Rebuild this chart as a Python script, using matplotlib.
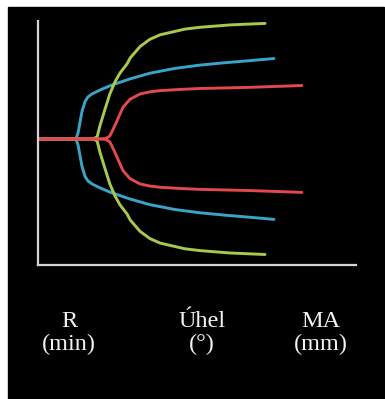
import matplotlib.pyplot as plt
from matplotlib.patches import Rectangle

# TEG trace half-widths (amplitude, mm) against time
blue_x = [0, 11.9, 12.6, 13.8, 14.8, 15.7, 17, 19.5, 22.6, 24.2, 28.9, 35.2,
          43, 50.9, 58.8, 66.7, 74.2]
blue_amp = [0, 0, 2, 9, 12.5, 14, 15, 16.3, 17.7, 18.3, 20, 21.9,
            23.5, 24.6, 25.4, 26.1, 26.8]

green_x = [0, 17.3, 18.6, 19.5, 21.1, 22.6, 24.2, 25.8, 28, 29, 32.1, 35.2,
           38.4, 42.5, 46.2, 50.9, 60.4, 71.4]
green_amp = [0, 0, 0.7, 4.5, 10, 15, 19, 22, 25, 27, 30.8, 33.2,
             34.7, 35.7, 36.6, 37.2, 38, 38.5]

red_x = [0, 21.1, 22.6, 24.2, 26.7, 28.9, 32.1, 35.2, 38.4, 44.7, 50.9, 66.7, 83]
red_amp = [0, 0, 1, 4.5, 10.5, 13.2, 15, 15.7, 16.1, 16.5, 16.8, 17.2, 17.8]

labels = ["R\n(min)", "Úhel\n(°)", "MA\n(mm)"]
label_x = [69, 202, 321]

fig = plt.figure(figsize=(3.85, 3.99), dpi=100)
fig.patch.set_facecolor("white")
fig.patches.append(Rectangle((8 / 385, 0), 376 / 385, 1 - 7 / 399,
                             transform=fig.transFigure, color="black", zorder=-10))

ax = fig.add_axes([38 / 385, 1 - 265 / 399, 318 / 385, 244 / 399])
ax.patch.set_alpha(0)

# upper and lower branches mirrored around the baseline; red last so it sits on top
for xs, amp, col in [(blue_x, blue_amp, "#3aa4c8"),
                     (green_x, green_amp, "#a8c94c"),
                     (red_x, red_amp, "#e2494e")]:
    ax.plot(xs, amp, color=col, lw=2.1, solid_capstyle="round", solid_joinstyle="round")
    ax.plot(xs, [-a for a in amp], color=col, lw=2.1, solid_capstyle="round",
            solid_joinstyle="round")

ax.set_xlim(0, 100)
ax.set_ylim(-42, 39.3)
ax.set_xticks([])
ax.set_yticks([])
for side in ["top", "right"]:
    ax.spines[side].set_visible(False)
for side in ["left", "bottom"]:
    ax.spines[side].set_color("#d4d4d4")
    ax.spines[side].set_linewidth(1.6)

for lbl, xp in zip(labels, label_x):
    fig.text(xp / 385, 1 - 311 / 399, lbl, ha="center", va="top",
             color="#f2f2f2", fontsize=17.5, family="Liberation Serif",
             linespacing=1.12)

fig.savefig("out.png", dpi=100)
